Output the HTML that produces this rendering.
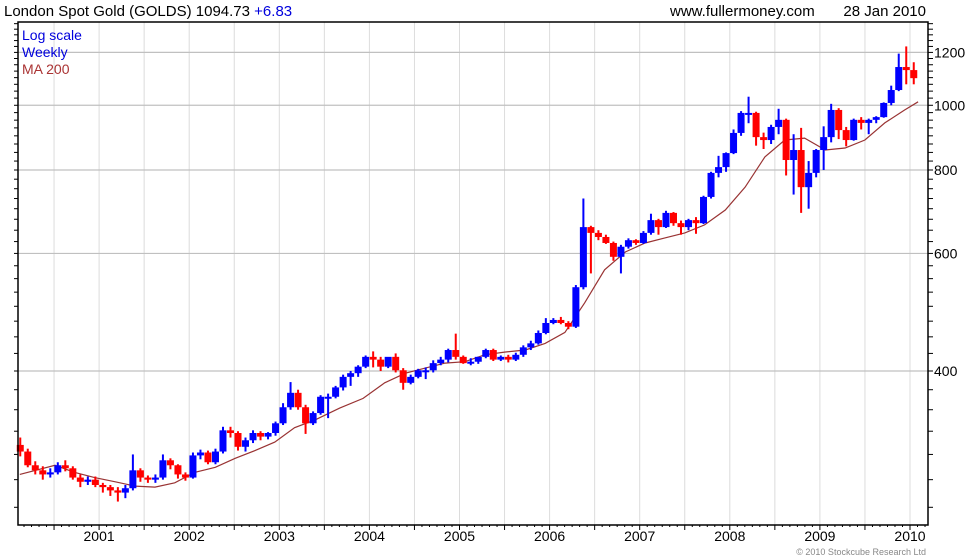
<!DOCTYPE html>
<html><head><meta charset="utf-8"><style>
body{margin:0;background:#fff;}
svg{display:block;font-family:"Liberation Sans",sans-serif;}
</style></head><body>
<svg id="chart" width="980" height="560" viewBox="0 0 980 560" xmlns="http://www.w3.org/2000/svg">
<rect x="0" y="0" width="980" height="560" fill="#fff"/>
<g id="grid"></g>
<g id="ma"></g>
<g id="candles"></g>
<g id="axes"></g>
<text x="4" y="16" font-size="15" fill="#000">London Spot Gold (GOLDS) 1094.73 <tspan fill="#0000dd">+6.83</tspan></text>
<text x="670" y="16" font-size="15" fill="#000">www.fullermoney.com</text>
<text x="926" y="16" font-size="15" fill="#000" text-anchor="end">28 Jan 2010</text>
<text x="22" y="40" font-size="14" fill="#0000dd">Log scale</text>
<text x="22" y="57" font-size="14" fill="#0000dd">Weekly</text>
<text x="22" y="74" font-size="14" fill="#aa3333">MA 200</text>
<text x="926" y="555" font-size="9" fill="#888" text-anchor="end">© 2010 Stockcube Research Ltd</text>
</svg>
<script>
const startYear = 2000, startMonth = 1; // Feb 2000
const opens = [310,303,289,284,280,282,289,286,277,273,275,
270,268,265,263,267,284,277,275,277,294,289,280,
277,299,302,292,303,326,323,308,315,323,319,323,
334,353,371,353,334,346,366,366,378,392,397,406,
420,416,406,420,401,384,392,401,401,411,416,430,
420,411,413,420,430,416,420,416,423,434,440,456,
472,477,472,466,534,657,644,635,622,593,614,628,
622,644,673,657,690,666,657,673,666,729,792,808,
848,909,974,974,896,887,928,951,828,857,754,792,
857,896,984,918,887,951,941,951,960,1008,1054,1141,
1129];
const closes = [303,289,284,280,282,289,286,277,273,275,270,
268,265,263,267,284,277,275,277,294,289,280,277,
299,302,292,303,326,323,308,315,323,319,323,334,
353,371,353,334,346,366,366,378,392,397,406,420,
416,406,420,401,384,392,401,401,411,416,430,420,
411,413,420,430,416,420,416,423,434,440,456,472,
477,472,466,534,657,644,635,622,593,614,628,622,
644,673,657,690,666,657,673,666,729,792,808,848,
909,974,974,896,887,928,951,828,857,754,792,857,
896,984,918,887,951,941,951,960,1008,1054,1141,1129,
1098];
const highs = [318,306,293,288,286,292,294,288,280,278,278,
272,270,268,270,300,286,279,280,300,296,290,282,
302,305,304,306,330,330,325,318,326,325,324,336,
358,385,375,356,348,368,370,380,395,400,408,422,
428,420,410,425,404,395,403,405,415,420,432,455,
422,418,420,432,432,422,423,426,437,444,460,480,
480,482,475,538,725,660,650,640,625,618,632,630,
648,688,676,695,692,672,676,680,732,795,840,850,
920,980,1030,978,910,935,988,955,905,925,825,860,
930,1005,990,928,955,960,955,963,1010,1070,1195,1225,
1160];
const lows = [298,287,280,275,277,280,283,275,268,270,268,
263,260,255,258,265,273,272,272,275,285,276,274,
276,295,290,290,301,318,304,303,312,315,316,320,
332,350,350,322,332,344,340,364,374,380,392,404,
405,400,404,398,375,382,390,389,398,408,412,416,
410,408,410,418,414,414,412,414,420,430,438,454,
470,470,462,464,530,560,628,620,585,560,610,618,
620,640,640,655,660,640,650,642,664,725,780,795,
845,900,940,870,860,875,905,785,735,690,700,780,
800,880,890,868,885,920,905,940,958,1000,1050,1075,
1075];
const maDates = [2000.12,2000.51,2000.73,2000.95,2001.18,2001.40,2001.62,2001.84,2002.06,2002.29,2002.51,2002.73,2002.95,2003.17,2003.40,2003.67,2003.93,2004.17,2004.40,2004.62,2004.84,2005.06,2005.28,2005.50,2005.73,2005.95,2006.17,2006.39,2006.61,2006.84,2007.06,2007.28,2007.50,2007.72,2007.95,2008.17,2008.39,2008.61,2008.83,2009.06,2009.28,2009.50,2009.72,2009.94,2010.09];
const maValues = [280,289,282,277,273,269,268,272,282,287,296,304,313,329,338,352,364,384,397,404,411,413,423,427,430,440,457,506,567,603,622,633,644,662,697,754,837,887,893,857,863,887,941,984,1012];
const yTicks = [400,600,800,1000,1200];
const xYears = [2001,2002,2003,2004,2005,2006,2007,2008,2009,2010];

const L=18,T=22,R=928,B=525;
const X0=9, PXY=90.1;
function xScale(t){return X0+(t-2000)*PXY;}
function yScale(p){return 371-290*Math.log(p/400);}
const NS='http://www.w3.org/2000/svg';
function mk(tag,attrs,parent){const e=document.createElementNS(NS,tag);for(const k in attrs)e.setAttribute(k,attrs[k]);parent.appendChild(e);return e;}
const grid=document.getElementById('grid'),axes=document.getElementById('axes'),cg=document.getElementById('candles'),mag=document.getElementById('ma');

for(let y=2000.5;y<2010.2;y+=0.5){
  const x=xScale(y); if(x<L||x>R)continue;
  const l=mk('line',{x1:x,x2:x,y1:T,y2:B,stroke:'#dcdcdc','stroke-width':1},grid);
  
  
}
yTicks.forEach(v=>{
  const y=yScale(v);
  const l=mk('line',{x1:L,x2:R,y1:y,y2:y,stroke:'#c0c0c0','stroke-width':1.2},grid);
  
  
  const t=mk('text',{x:934,y:y+5,'font-size':14,fill:'#000'},axes);
  t.textContent=v;
  
  
});
for(let v=250;v<=1325;v+=25){
  const y=yScale(v); if(y<T||y>B)continue;
  const a=mk('line',{x1:R,x2:R+5,y1:y,y2:y,stroke:'#000'},axes);
  
  
  const b=mk('line',{x1:L-4,x2:L,y1:y,y2:y,stroke:'#000'},axes);
  
  
}
for(let m=0;m<=122;m++){
  const x=xScale(2000+m/12); if(x<L||x>R)continue;
  const len=(m%6===0)?5:2;
  const t=mk('line',{x1:x,x2:x,y1:B,y2:B+len,stroke:'#000'},axes);
  
  
}
xYears.forEach(yv=>{
  const t=mk('text',{x:xScale(yv),y:541,'font-size':14,fill:'#000','text-anchor':'middle'},axes);
  t.textContent=yv;
  
  
});
const fr=mk('path',{d:`M${L},${B} L${L},${T} L${R},${T} L${R},${B} Z`,fill:'none',stroke:'#000','stroke-width':1.5},axes);



// MA line
let d='';
maDates.forEach((t,i)=>{d+=(i?'L':'M')+xScale(t).toFixed(1)+','+yScale(maValues[i]).toFixed(1);});
const ml=mk('path',{d:d,fill:'none',stroke:'#993333','stroke-width':1.2},mag);



// candles
closes.forEach((c,i)=>{
  const t=startYear+(startMonth+i+0.5)/12;
  const x=xScale(t);
  const o=opens[i];
  const col=c>=o?'#0000ff':'#ff0000';
  const w=mk('line',{x1:x,x2:x,y1:yScale(highs[i]),y2:yScale(lows[i]),stroke:col,'stroke-width':2},cg);
  
  
  const yt=yScale(Math.max(o,c)),yb=yScale(Math.min(o,c));
  const r=mk('rect',{x:x-3.5,y:yt,width:7,height:Math.max(2,yb-yt),fill:col},cg);
  
  
});
</script>
</body></html>
